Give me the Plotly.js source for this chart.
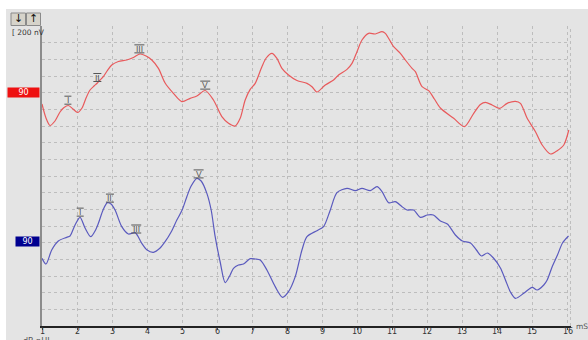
<!DOCTYPE html>
<html>
<head>
<meta charset="utf-8">
<script src="https://cdn.plot.ly/plotly-3.0.1.min.js"></script>
<style>
  html, body { margin: 0; padding: 0; background: #fff; }
  #chart { width: 588px; height: 340px; }
</style>
</head>
<body>
<div id="chart"></div>
<script>
// ABR waveforms at 90 dB nHL: latency (ms) vs amplitude (nV, relative to each trace's baseline)
const redLatency = [1.000, 1.114, 1.229, 1.371, 1.514, 1.629, 1.751, 1.886, 2.014, 2.143, 2.257, 2.371, 2.486, 2.580, 2.657, 2.751, 2.857, 2.991, 3.180, 3.420, 3.609, 3.800, 3.971, 4.134, 4.323, 4.514, 4.751, 4.991, 5.229, 5.420, 5.657, 5.894, 6.134, 6.314, 6.514, 6.657, 6.800, 6.943, 7.086, 7.277, 7.400, 7.563, 7.706, 7.849, 8.037, 8.277, 8.563, 8.706, 8.849, 9.086, 9.323, 9.466, 9.706, 9.849, 9.991, 10.134, 10.323, 10.514, 10.706, 10.800, 11.037, 11.229, 11.371, 11.563, 11.657, 11.849, 12.037, 12.200, 12.371, 12.751, 13.057, 13.323, 13.514, 13.657, 13.849, 14.066, 14.277, 14.514, 14.657, 14.849, 15.086, 15.277, 15.514, 15.706, 15.894, 16.037];
const redAmp = [-68, -152, -197, -170, -116, -89, -77, -98, -119, -92, -32, 16, 40, 58, 76, 96, 130, 166, 187, 196, 211, 232, 220, 196, 146, 58, -4, -54, -34, -20, 13, -44, -144, -182, -200, -154, -44, 20, 56, 156, 208, 236, 206, 146, 106, 73, 56, 36, 4, 46, 76, 106, 140, 176, 246, 316, 356, 352, 366, 356, 276, 236, 196, 146, 126, 36, 12, -38, -92, -154, -204, -124, -71, -58, -74, -94, -64, -52, -64, -154, -234, -314, -368, -348, -314, -224];

const blueLatency = [1.000, 1.114, 1.277, 1.466, 1.706, 1.800, 1.943, 2.086, 2.229, 2.391, 2.514, 2.609, 2.743, 2.866, 2.971, 3.086, 3.277, 3.466, 3.657, 3.849, 4.000, 4.180, 4.371, 4.514, 4.686, 4.849, 5.000, 5.134, 5.257, 5.420, 5.543, 5.706, 5.829, 5.943, 6.086, 6.229, 6.371, 6.466, 6.609, 6.751, 6.943, 7.086, 7.229, 7.420, 7.657, 7.866, 8.037, 8.229, 8.420, 8.563, 8.849, 9.037, 9.229, 9.420, 9.706, 9.943, 10.134, 10.371, 10.563, 10.706, 10.894, 11.086, 11.277, 11.420, 11.609, 11.800, 12.000, 12.171, 12.371, 12.571, 12.800, 13.000, 13.229, 13.400, 13.543, 13.714, 13.886, 14.086, 14.229, 14.371, 14.514, 14.751, 14.991, 15.134, 15.323, 15.420, 15.571, 15.714, 15.857, 16.029];
const blueAmp = [-104, -138, -54, 0, 22, 30, 96, 142, 78, 26, 60, 106, 186, 230, 222, 186, 86, 42, 50, -14, -54, -68, -42, -4, 54, 126, 186, 266, 330, 376, 360, 286, 186, 26, -126, -250, -204, -164, -144, -138, -106, -108, -114, -174, -274, -338, -304, -214, -54, 26, 62, 86, 186, 290, 316, 302, 316, 302, 326, 296, 230, 236, 206, 186, 186, 142, 156, 156, 120, 102, 36, 0, -12, -54, -90, -72, -102, -162, -234, -306, -344, -314, -278, -294, -264, -234, -150, -84, -12, 30];

// Vertical position of each trace's baseline on the display (nV)
const redBaseline = 1400;
const blueBaseline = 510;
const levelLabel = '90';

// Wave peak markers
const peakNames = ['I', 'II', 'III', 'V'];
const redPeakLatency = [1.74, 2.58, 3.78, 5.66];
const bluePeakLatency = [2.09, 2.94, 3.69, 5.47];

const xTicks = [1, 2, 3, 4, 5, 6, 7, 8, 9, 10, 11, 12, 13, 14, 15, 16];

const W = 588, H = 340;
const ML = 42, MR = 17, MT = 26, MB = 14;
const PW = W - ML - MR, PH = H - MT - MB;
const px = x => (x - ML) / PW;            // pixel column -> paper x
const py = y => (H - MB - y) / PH;        // pixel row -> paper y

function interp(xs, ys, x) {
  for (let i = 1; i < xs.length; i++) {
    if (x <= xs[i]) {
      const t = (x - xs[i - 1]) / (xs[i] - xs[i - 1]);
      return ys[i - 1] + t * (ys[i] - ys[i - 1]);
    }
  }
  return ys[ys.length - 1];
}

const shift = (arr, b) => arr.map(v => v + b);

const traces = [
  {
    x: redLatency, y: shift(redAmp, redBaseline),
    type: 'scatter', mode: 'lines',
    line: { color: '#e85a5c', width: 1.2, shape: 'spline', smoothing: 0.8 },
    hoverinfo: 'skip'
  },
  {
    x: blueLatency, y: shift(blueAmp, blueBaseline),
    type: 'scatter', mode: 'lines',
    line: { color: '#5a5abe', width: 1.2, shape: 'spline', smoothing: 0.8 },
    hoverinfo: 'skip'
  }
];

const markerColor = '#555';
const markerFont = { family: 'Liberation Sans, DejaVu Sans', size: 8.5, color: markerColor };
const barWidth = { 'I': 7, 'II': 8, 'III': 10, 'V': 10 };
const annotations = [];
const shapes = [];
// each peak label sits a few pixels above the waveform, framed by a bar above and below
function addPeaks(lat, xs, ys, base) {
  lat.forEach((l, i) => {
    const yv = interp(xs, ys, l) + base;
    const name = peakNames[i];
    annotations.push({
      x: l, y: yv, xref: 'x', yref: 'y',
      text: name, showarrow: false, font: markerFont,
      xanchor: 'center', yanchor: 'middle', yshift: 5.5
    });
    [1.5, 9.5].forEach(dy => {
      shapes.push({
        type: 'line', xref: 'x', yref: 'y',
        xsizemode: 'pixel', ysizemode: 'pixel', xanchor: l, yanchor: yv,
        x0: -barWidth[name] / 2, x1: barWidth[name] / 2, y0: dy, y1: dy,
        line: { color: markerColor, width: 1 }
      });
    });
  });
}
addPeaks(redPeakLatency, redLatency, redAmp, redBaseline);
addPeaks(bluePeakLatency, blueLatency, blueAmp, blueBaseline);

// time axis labels
xTicks.forEach(t => {
  annotations.push({
    x: t, y: py(331.5), xref: 'x', yref: 'paper', text: String(t), showarrow: false,
    font: { family: 'DejaVu Sans', size: 8, color: '#333' }, xanchor: 'center', yanchor: 'middle'
  });
});

// level labels at each trace baseline
annotations.push({
  x: px(40), y: redBaseline, xref: 'paper', yref: 'y', xanchor: 'right', yanchor: 'middle',
  text: levelLabel, showarrow: false, bgcolor: '#ee1111', width: 31, height: 9,
  borderpad: 0, font: { family: 'DejaVu Sans', size: 8, color: '#fff' }
});
annotations.push({
  x: px(40), y: blueBaseline, xref: 'paper', yref: 'y', xanchor: 'right', yanchor: 'middle',
  text: levelLabel, showarrow: false, bgcolor: '#000090', width: 23, height: 9,
  borderpad: 0, font: { family: 'DejaVu Sans', size: 8, color: '#fff' }
});

// panel texts
annotations.push({ x: px(18.2), y: py(19), xref: 'paper', yref: 'paper', text: '↓', showarrow: false,
  font: { family: 'DejaVu Sans', size: 11, color: '#111' }, xanchor: 'center', yanchor: 'middle' });
annotations.push({ x: px(33.2), y: py(19), xref: 'paper', yref: 'paper', text: '↑', showarrow: false,
  font: { family: 'DejaVu Sans', size: 11, color: '#111' }, xanchor: 'center', yanchor: 'middle' });
annotations.push({ x: px(10), y: py(32), xref: 'paper', yref: 'paper', text: '[ 200 nV', showarrow: false,
  font: { family: 'DejaVu Sans', size: 7.5, color: '#333' }, xanchor: 'left', yanchor: 'middle' });
annotations.push({ x: px(574), y: py(326), xref: 'paper', yref: 'paper', text: 'mS', showarrow: false,
  font: { family: 'DejaVu Sans', size: 7.5, color: '#555' }, xanchor: 'left', yanchor: 'middle' });
annotations.push({ x: px(21), y: py(335), xref: 'paper', yref: 'paper', text: 'dB nHL', showarrow: false,
  font: { family: 'DejaVu Sans', size: 8, color: '#555' }, xanchor: 'left', yanchor: 'top' });

shapes.push(
  // white margins around the grey panel
  { type: 'rect', xref: 'paper', yref: 'paper', x0: px(0), x1: px(W), y0: py(9), y1: py(0),
    fillcolor: '#ffffff', line: { width: 0 }, layer: 'below' },
  { type: 'rect', xref: 'paper', yref: 'paper', x0: px(0), x1: px(6), y0: py(H), y1: py(0),
    fillcolor: '#ffffff', line: { width: 0 }, layer: 'below' },
  // buttons
  { type: 'rect', xref: 'paper', yref: 'paper', x0: px(11), x1: px(25.5), y0: py(25.5), y1: py(13),
    fillcolor: '#d6d3ca', line: { color: '#8a8a8a', width: 1 } },
  { type: 'rect', xref: 'paper', yref: 'paper', x0: px(26.5), x1: px(40.5), y0: py(25.5), y1: py(13),
    fillcolor: '#d6d3ca', line: { color: '#8a8a8a', width: 1 } },
  // right edge of the grid
  { type: 'line', xref: 'paper', yref: 'paper', x0: 0.999, x1: 0.999, y0: 0, y1: 1,
    line: { color: '#bdbdbd', width: 1, dash: 'dot' } }
);

const layout = {
  width: W, height: H,
  margin: { l: ML, r: MR, t: MT, b: MB, pad: 0 },
  paper_bgcolor: '#e4e4e4',
  plot_bgcolor: '#e4e4e4',
  showlegend: false,
  xaxis: {
    range: [1, 16.1], tickvals: xTicks, showticklabels: false,
    showgrid: true, gridcolor: '#bdbdbd', griddash: 'dot', gridwidth: 1,
    zeroline: false, showline: true, linecolor: '#222', linewidth: 2,
    ticks: 'outside', ticklen: 2, tickcolor: '#444'
  },
  yaxis: {
    range: [0, 1800], dtick: 100, tick0: 0,
    showgrid: true, gridcolor: '#bdbdbd', griddash: 'dot', gridwidth: 1,
    zeroline: false, showline: true, linecolor: '#8c8c8c', linewidth: 2,
    showticklabels: false, ticks: ''
  },
  annotations: annotations,
  shapes: shapes
};

Plotly.newPlot('chart', traces, layout, { staticPlot: true, displayModeBar: false });
</script>
</body>
</html>
